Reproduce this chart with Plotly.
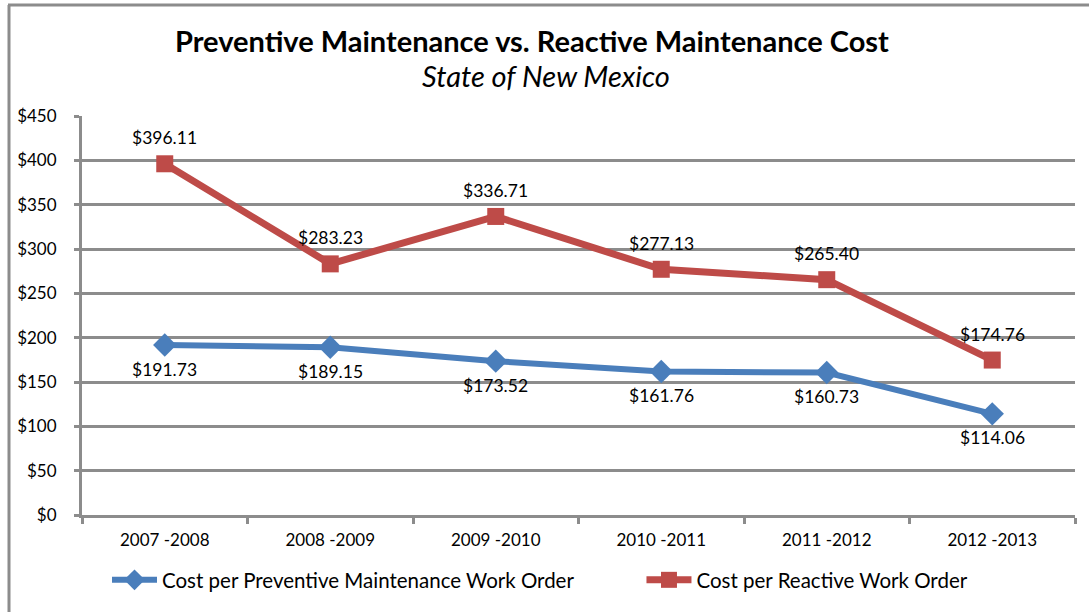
import plotly.graph_objects as go

categories = ["2007 -2008", "2008 -2009", "2009 -2010", "2010 -2011", "2011 -2012", "2012 -2013"]
preventive = [191.73, 189.15, 173.52, 161.76, 160.73, 114.06]
reactive = [396.11, 283.23, 336.71, 277.13, 265.40, 174.76]
y_ticks = [0, 50, 100, 150, 200, 250, 300, 350, 400, 450]

W, H = 1089, 612
L, R, T, B = 82, 14, 116, 97
pw, ph = W - L - R, H - T - B

def px_x(x):
    return (x - L) / pw

def px_y(y):
    return (H - B - y) / ph

FONT = "Lato, 'Open Sans', sans-serif"
BLUE = "#4A7EBB"
RED = "#BE4B48"
GRID = "#8C8C8C"
PAD = "\u00a0" * 12

fig = go.Figure()
fig.add_trace(go.Scatter(
    x=categories, y=preventive, mode="lines+markers",
    name="Cost per Preventive Maintenance Work Order" + PAD,
    line=dict(color=BLUE, width=6),
    marker=dict(symbol="diamond", size=18, color=BLUE),
))
fig.add_trace(go.Scatter(
    x=categories, y=reactive, mode="lines+markers",
    name="Cost per Reactive Work Order",
    line=dict(color=RED, width=7),
    marker=dict(symbol="square", size=17, color=RED),
))

for c, v in zip(categories, reactive):
    fig.add_annotation(x=c, y=v, text=f"${v:.2f}", showarrow=False, yshift=26,
                       font=dict(family=FONT, size=17.5, color="#000"))
for c, v in zip(categories, preventive):
    fig.add_annotation(x=c, y=v, text=f"${v:.2f}", showarrow=False, yshift=-24,
                       font=dict(family=FONT, size=17.5, color="#000"))

fig.add_annotation(xref="paper", yref="paper", x=px_x(532), y=px_y(40), yanchor="middle", xanchor="center",
                   text="<b>Preventive Maintenance vs. Reactive Maintenance Cost</b>",
                   showarrow=False, font=dict(family=FONT, size=29, color="#000"))
fig.add_annotation(xref="paper", yref="paper", x=px_x(546), y=px_y(75), yanchor="middle", xanchor="center",
                   text="<i>State of New Mexico</i>",
                   showarrow=False, font=dict(family=FONT, size=29, color="#000"))

# outer chart border (left and top)
fig.add_shape(type="line", xref="paper", yref="paper", x0=px_x(9), x1=px_x(9), y0=px_y(5), y1=px_y(H + 5),
              line=dict(color="#8C8C8C", width=3))
fig.add_shape(type="line", xref="paper", yref="paper", x0=px_x(8), x1=px_x(W + 5), y0=px_y(5), y1=px_y(5),
              line=dict(color="#8C8C8C", width=3))

fig.update_layout(
    width=W, height=H,
    margin=dict(l=L, r=R, t=T, b=B, autoexpand=False),
    paper_bgcolor="white", plot_bgcolor="white",
    font=dict(family=FONT, size=14, color="#000"),
    showlegend=True,
    legend=dict(orientation="h", x=px_x(540), xanchor="center", y=px_y(580), yanchor="middle",
                font=dict(family=FONT, size=20.5, color="#000"), itemwidth=45,
                tracegroupgap=0),
    xaxis=dict(
        type="category", categoryorder="array", categoryarray=categories,
        range=[-0.5, 5.5], showgrid=False, zeroline=False,
        showline=True, linecolor=GRID, linewidth=3,
        ticks="outside", tickson="boundaries", ticklen=6,
        tickcolor=GRID, tickwidth=3, tickfont=dict(family=FONT, size=17),
        ticklabelstandoff=8,
    ),
    yaxis=dict(
        range=[0, 450], tickvals=y_ticks, ticktext=[f"${v}" for v in y_ticks],
        showgrid=True, gridcolor=GRID, gridwidth=3, zeroline=False,
        showline=True, linecolor=GRID, linewidth=3, ticks="outside", ticklen=5,
        tickcolor=GRID, tickwidth=3, tickfont=dict(family=FONT, size=17),
        ticklabelstandoff=14,
    ),
)

fig.write_html("out.html", config={"displayModeBar": False},
               post_script="document.body.style.margin='0';document.body.style.padding='0';")
